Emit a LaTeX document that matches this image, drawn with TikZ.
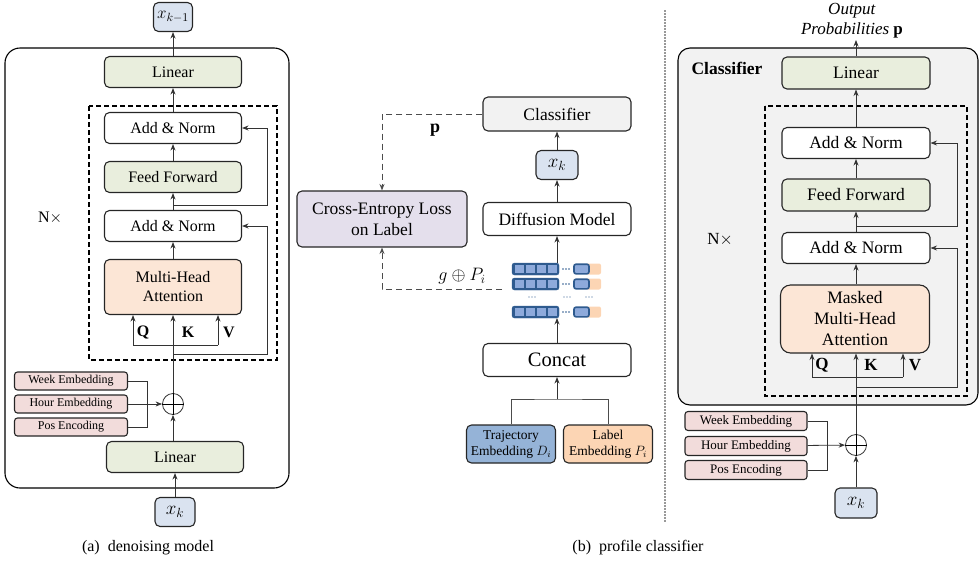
\RequirePackage{fix-cm}
\documentclass[tikz,border=0pt]{standalone}
\usepackage{fontspec}
\setmainfont{Liberation Serif}
\usetikzlibrary{arrows.meta}
\definecolor{bluebox}{HTML}{DAE3F0}
\definecolor{greenbox}{HTML}{E9EEDD}
\definecolor{pinkbox}{HTML}{F2DCDB}
\definecolor{orangebox}{HTML}{FCE6D6}
\definecolor{purplebox}{HTML}{E4DFEC}
\definecolor{graybox}{HTML}{F2F2F2}
\definecolor{trajblue}{HTML}{95B3D7}
\definecolor{labelorange}{HTML}{FCD5B4}
\definecolor{tokdark}{HTML}{2F5B8F}
\definecolor{tokcell}{HTML}{8EAADB}
\tikzstyle{blk}=[draw=black!85, line width=1.1pt, rounded corners=5pt, inner sep=0pt, minimum width=137pt, minimum height=31pt, font=\fontsize{16}{19}\selectfont]
\tikzstyle{blkb}=[blk, minimum width=148pt, font=\fontsize{17.5}{21}\selectfont]
\tikzstyle{xbox}=[blk, fill=bluebox, minimum width=40pt, minimum height=29pt, font=\fontsize{19}{22}\selectfont]
\tikzstyle{emb}=[blk, fill=pinkbox, rounded corners=3pt, minimum width=113pt, minimum height=18pt, font=\fontsize{12}{14}\selectfont]
\tikzstyle{arr}=[-{Stealth[length=6.5pt,width=5pt]}, line width=0.8pt, draw=black!80]
\tikzstyle{dbox}=[line width=1.1pt, dash pattern=on 5pt off 3pt]
\tikzstyle{oplus}=[circle, draw=black!80, line width=0.8pt, minimum size=21pt, inner sep=0pt]
\newcommand{\blk}{\node[blk]}
\begin{document}
\begin{tikzpicture}[x=1pt, y=-1pt]
\useasboundingbox (0,0) rectangle (979,568);
% (a) denoising model
\draw[line width=1.1pt, rounded corners=15pt] (5,48) rectangle (289,488);
\draw[dbox] (89,106) rectangle (277,360);
\node[xbox, minimum width=39pt, inner xsep=2pt, font=\fontsize{17}{20}\selectfont] (xkm) at (173,17) {$x_{k-1}$};
\blk[fill=greenbox] (lin2) at (173,72) {Linear};
\blk (an2) at (173,128) {Add \& Norm};
\blk[fill=greenbox] (ff) at (173,177) {Feed Forward};
\blk (an1) at (173,226) {Add \& Norm};
\blk[fill=orangebox, minimum height=55pt, align=center] (mha) at (173,287) {Multi-Head\\Attention};
\node[emb] (week) at (71,381) {Week Embedding};
\node[emb] (hour) at (71,404) {Hour Embedding};
\node[emb] (pos) at (71,427) {Pos Encoding};
\node[oplus] (plus) at (173,404) {};
\draw[line width=0.8pt] (plus.north) -- (plus.south) (plus.west) -- (plus.east);
\blk[fill=greenbox] (lin1) at (175,457) {Linear};
\node[xbox] (xk1) at (175,512) {$x_k$};
\node[font=\fontsize{16}{19}\selectfont] at (50,218) {N$\times$};
\coordinate (q1) at (133,345);
\coordinate (v1) at (218,345);
\coordinate (r1) at (173,354);
\coordinate (r1e) at (267,354);
\coordinate (r2) at (173,205);
\coordinate (r2e) at (267,205);
\coordinate (b1) at (147,381);
\coordinate (b2) at (147,427);
\draw[arr] (xk1) -- (lin1);
\draw[arr] (lin1.north -| plus) -- (plus);
\draw[arr] (plus) -- (mha);
\draw[line width=0.8pt, draw=black!80] (q1) -- (v1);
\draw[arr] (q1) -- (q1 |- mha.south);
\draw[arr] (v1) -- (v1 |- mha.south);
\draw[arr] (r1) -- (r1e) |- (an1);
\draw[arr] (mha) -- (an1);
\draw[arr] (an1) -- (ff);
\draw[arr] (r2) -- (r2e) |- (an2);
\draw[arr] (ff) -- (an2);
\draw[arr] (an2) -- (lin2);
\draw[arr] (lin2) -- (xkm);
\draw[line width=0.8pt, draw=black!80] (week) -- (b1) -- (b2) -- (pos);
\draw[arr] (hour) -- (plus);
\node[font=\fontsize{16}{19}\selectfont\bfseries] at (143,332) {Q};
\node[font=\fontsize{16}{19}\selectfont\bfseries] at (188,332) {K};
\node[font=\fontsize{16}{19}\selectfont\bfseries] at (229,332) {V};
\node[font=\fontsize{16}{19}\selectfont] at (148,548) {(a)\ \ denoising model};
% training of the profile classifier
\node[blkb, fill=graybox, minimum height=34pt] (cls) at (557,114) {Classifier};
\node[xbox, minimum width=42pt] (xk2) at (557,165) {$x_k$};
\node[blkb, minimum height=33pt] (dif) at (557,219) {Diffusion Model};
\node[blkb, fill=purplebox, minimum width=170pt, minimum height=56pt, align=center] (ce) at (382,219) {Cross-Entropy Loss\\on Label};
\node[blkb, minimum height=33pt, font=\fontsize{20.5}{24}\selectfont] (cat) at (557,360) {Concat};
\node[blk, fill=trajblue, minimum width=89pt, minimum height=38pt, align=center, font=\fontsize{13.5}{16}\selectfont] (traj) at (511,444) {Trajectory\\Embedding $D_i$};
\node[blk, fill=labelorange, minimum width=89pt, minimum height=38pt, align=center, font=\fontsize{13.5}{16}\selectfont] (lab) at (608,444) {Label\\Embedding $P_i$};
\foreach \y in {269,284,312}{
	\draw[tokdark, fill=tokdark, rounded corners=2.5pt] (512,\y-6) rectangle (559,\y+6);
	\foreach \i in {0,1,2,3}
		\fill[tokcell] (514.5+\i*11,\y-4) rectangle +(9.5,8);
	\foreach \d in {563,566,569}
		\fill[tokdark] (\d,\y) circle (0.8);
	\fill[labelorange, rounded corners=2pt] (586,\y-5.5) rectangle (601,\y+5.5);
	\draw[tokdark, fill=tokcell, line width=1.6pt, rounded corners=2pt] (574,\y-4.8) rectangle (589,\y+4.8);
	}
\foreach \d in {529,532,535,564,567,570,586,589,592}
	\fill[tokdark] (\d,297) circle (0.7);
\coordinate (tokT) at (557,263);
\coordinate (tokB) at (557,318);
\coordinate (tokL) at (502,289);
\coordinate (cb) at (557,399);
\draw[arr] (tokT) -- (dif);
\draw[arr] (dif) -- (xk2);
\draw[arr] (xk2) -- (cls);
\draw[arr] (cat) -- (tokB);
\draw[line width=0.8pt, draw=black!70] (traj) |- (cb) -| (lab);
\draw[arr] (cb) -- (cat);
\draw[arr, draw=black!70, line width=1pt, dash pattern=on 6pt off 4pt] (cls) -| (ce);
\draw[arr, draw=black!70, line width=1pt, dash pattern=on 6pt off 4pt] (tokL) -| (ce);
\node[font=\fontsize{18}{20}\selectfont] at (435,130) {$\mathbf{p}$};
\node[font=\fontsize{18}{20}\selectfont] at (462,276) {$g\oplus P_i$};
% divider
\draw[black!40, line width=2pt, dash pattern=on 1.5pt off 1.5pt] (665,10) -- (665,522);
% (b) profile classifier
\draw[fill=graybox, line width=1.1pt, rounded corners=12pt] (678,48) rectangle (978,405);
\draw[dbox] (765,106) rectangle (967,396);
\node[font=\fontsize{17.5}{21}\selectfont\bfseries] at (727,68) {Classifier};
\node[blkb, fill=greenbox, minimum height=32pt] (lin3) at (856,73) {Linear};
\node[blkb, fill=white] (an4) at (856,143) {Add \& Norm};
\node[blkb, fill=greenbox, minimum height=32pt] (ff2) at (856,195) {Feed Forward};
\node[blkb, fill=white] (an3) at (856,248) {Add \& Norm};
\node[blkb, fill=orangebox, minimum width=149pt, minimum height=68pt, rounded corners=10pt, align=center] (mmha) at (855,319) {Masked\\Multi-Head\\Attention};
\node[emb, minimum width=122pt, minimum height=19pt, font=\fontsize{13}{15}\selectfont] (week2) at (746,421) {Week Embedding};
\node[emb, minimum width=122pt, minimum height=19pt, font=\fontsize{13}{15}\selectfont] (hour2) at (746,446) {Hour Embedding};
\node[emb, minimum width=122pt, minimum height=19pt, font=\fontsize{13}{15}\selectfont] (pos2) at (746,470) {Pos Encoding};
\node[oplus] (plus2) at (856,445) {};
\draw[line width=0.8pt] (plus2.north) -- (plus2.south) (plus2.west) -- (plus2.east);
\node[xbox, minimum width=42pt, minimum height=30pt] (xk3) at (856,503) {$x_k$};
\node[font=\fontsize{17}{20}\selectfont] at (720,240) {N$\times$};
\node[font=\fontsize{17}{20}\selectfont, align=center] at (852,21) {\textit{Output}\\\textit{Probabilities} $\mathbf{p}$};
\coordinate (outp) at (856,40);
\coordinate (q2) at (812,377);
\coordinate (v2) at (903,377);
\coordinate (r3) at (856,387);
\coordinate (r3e) at (957,387);
\coordinate (r4) at (856,226);
\coordinate (r4e) at (957,226);
\coordinate (b3) at (827,421);
\coordinate (b4) at (827,470);
\draw[arr] (xk3) -- (plus2);
\draw[arr] (plus2) -- (mmha.south -| plus2);
\draw[line width=0.8pt, draw=black!80] (q2) -- (v2);
\draw[arr] (q2) -- (q2 |- mmha.south);
\draw[arr] (v2) -- (v2 |- mmha.south);
\draw[arr] (r3) -- (r3e) |- (an3);
\draw[arr] (mmha.north -| an3) -- (an3);
\draw[arr] (an3) -- (ff2);
\draw[arr] (r4) -- (r4e) |- (an4);
\draw[arr] (ff2) -- (an4);
\draw[arr] (an4) -- (lin3);
\draw[arr] (lin3) -- (outp);
\draw[line width=0.8pt, draw=black!80] (week2) -- (b3) -- (b4) -- (pos2);
\draw[arr] (hour2) -- (plus2);
\node[font=\fontsize{17}{20}\selectfont\bfseries] at (822,365) {Q};
\node[font=\fontsize{17}{20}\selectfont\bfseries] at (871,365) {K};
\node[font=\fontsize{17}{20}\selectfont\bfseries] at (915,365) {V};
\node[font=\fontsize{16}{19}\selectfont] at (638,548) {(b)\ \ profile classifier};
\end{tikzpicture}
\end{document}
